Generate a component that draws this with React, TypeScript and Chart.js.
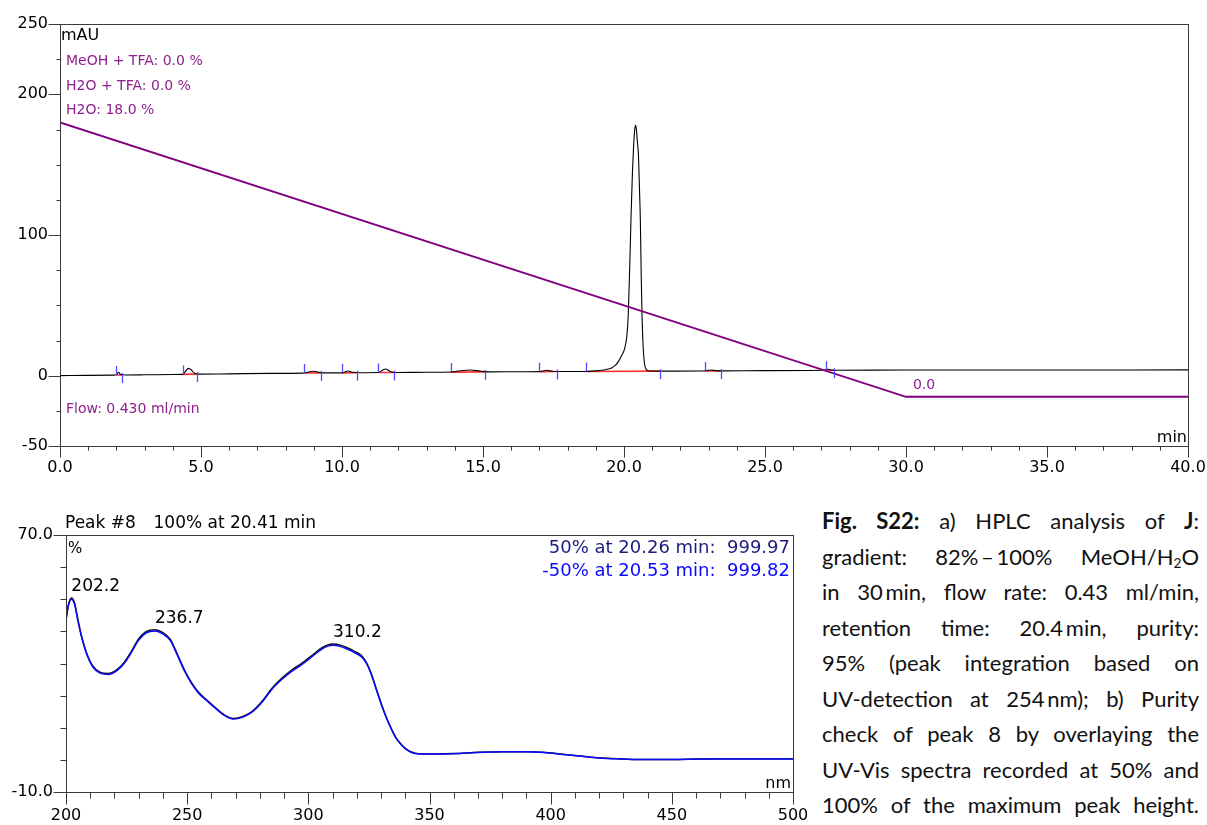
import React, { useEffect, useRef } from "react";
import { Chart, registerables } from "chart.js";

Chart.register(...registerables);

const AXIS_FONT = "'DejaVu Sans', 'Liberation Sans', sans-serif";
const PURPLE_TEXT = "#8f1f8f";
const PURPLE_LINE = "#800080";

// ---- HPLC chromatogram, UV 254 nm ----
const chromTime = [
  0, 1.0, 1.9, 2.0, 2.07, 2.15, 2.3, 3.0, 4.0, 4.35, 4.45, 4.55, 4.65, 4.75, 4.9,
  6.0, 7.5, 8.6, 8.8, 8.98, 9.15, 9.3, 10.0, 10.2, 10.4, 10.6, 11.3, 11.45, 11.55,
  11.7, 11.9, 13.0, 13.9, 14.2, 14.54, 14.9, 15.2, 16.5, 17.0, 17.26, 17.5, 18.0,
  18.6, 19.0, 19.2, 19.4, 19.56, 19.7, 19.8, 19.92, 20.02, 20.1, 20.15, 20.2, 20.25,
  20.3, 20.34, 20.38, 20.41, 20.44, 20.48, 20.51, 20.55, 20.58, 20.61, 20.64, 20.68,
  20.72, 20.76, 20.82, 20.95, 21.5, 22.8, 23.0, 23.1, 23.25, 23.5, 25.0, 27.1, 27.19,
  27.35, 27.5, 30.0, 35.0, 40.0,
];
const chromAbs = [
  0.0, 0.2, 0.4, 0.6, 2.4, 0.8, 0.5, 0.6, 0.8, 0.9, 3.0, 5.2, 4.2, 2.0, 1.1,
  1.3, 1.6, 1.8, 2.5, 3.1, 2.6, 2.0, 2.0, 3.3, 2.4, 2.1, 2.2, 4.0, 4.7,
  3.2, 2.3, 2.4, 2.6, 3.5, 4.0, 3.3, 2.7, 2.8, 2.9, 3.8, 3.0, 3.0,
  3.0, 3.4, 3.8, 4.6, 5.5, 7.5, 10, 14.5, 19, 28, 43, 75, 113,
  145, 163, 175, 178, 175, 165, 158, 132, 110, 72, 42, 20,
  9.5, 5.5, 3.8, 3.3, 3.25, 3.35, 3.8, 4.0, 3.6, 3.4, 3.6, 3.8, 4.7,
  4.0, 3.85, 4.0, 4.05, 4.1,
];

// Solvent program trace (H2O %, plotted on the mAU scale)
const gradientTime = [0, 30, 40];
const gradientLevel = [180, -15, -15];

// Integration limits of the detected peaks: time [min] and baseline level [mAU]
const peakStartTime = [1.99, 4.35, 8.66, 9.99, 11.29, 13.85, 16.99, 18.64, 22.87, 27.15];
const peakStartLevel = [0.45, 0.9, 1.85, 2.0, 2.2, 2.55, 2.85, 3.0, 3.35, 3.8];
const peakEndTime = [2.2, 4.85, 9.26, 10.54, 11.86, 15.07, 17.61, 21.28, 23.44, 27.46];
const peakEndLevel = [0.5, 1.1, 1.95, 2.1, 2.3, 2.7, 2.95, 3.2, 3.4, 3.85];

// Labelled ticks of the chromatogram
const chromXLabels = [0, 5, 10, 15, 20, 25, 30, 35, 40];
const chromYLabels = [-50, 0, 100, 200, 250];

// ---- UV spectra of peak #8 ----
const wavelength = [
  200, 201, 202.2, 203.5, 205, 206.5, 208.5, 211, 214, 217.5,
  221, 224, 227, 230, 233, 236.7, 240, 243, 246, 249,
  252, 255, 258, 261, 265, 269, 273, 277, 281, 285,
  289, 293, 297, 301, 305, 308, 310.2, 313, 316, 319,
  322, 324, 326, 328, 330, 332, 334, 336, 338, 340,
  342, 344, 347, 352, 360, 370, 380, 390, 397, 405,
  413, 420, 428, 437, 450, 460, 470, 480, 490, 500,
];
// spectrum recorded at 50 % (upslope) - black
const spectrumUp = [
  43.8, 48.3, 50.4, 48.9, 43.3, 38.3, 33.3, 29.3, 27.3, 26.9,
  28.1, 30.3, 33.8, 37.7, 39.9, 40.5, 39.6, 37.6, 32.8, 27.8,
  23.8, 20.8, 18.7, 16.7, 14.2, 12.9, 13.5, 15.2, 18.3, 22.3,
  25.4, 27.9, 29.9, 32.2, 34.6, 35.8, 36.1, 35.8, 34.9, 33.8,
  32.4, 30.3, 26.8, 22.2, 17.7, 13.6, 10.1, 7.1, 5.1, 3.6,
  2.6, 2.1, 1.85, 1.85, 1.95, 2.35, 2.55, 2.55, 2.35, 1.75,
  1.15, 0.65, 0.35, 0.15, 0.15, 0.25, 0.35, 0.35, 0.35, 0.35,
];
// spectrum recorded at -50 % (downslope) - blue
const spectrumDown = [
  43.5, 48, 50.0, 48.5, 43, 38, 33, 29, 27, 26.6,
  27.8, 30, 33.5, 37.3, 39.5, 40.1, 39.2, 37.2, 32.5, 27.5,
  23.5, 20.5, 18.5, 16.5, 14, 12.7, 13.3, 15, 18, 22,
  25, 27.5, 29.5, 31.8, 34.2, 35.4, 35.7, 35.4, 34.5, 33.4,
  32, 30, 26.5, 22, 17.5, 13.5, 10, 7, 5, 3.5,
  2.5, 2.0, 1.8, 1.8, 1.9, 2.3, 2.5, 2.5, 2.3, 1.7,
  1.1, 0.6, 0.3, 0.1, 0.1, 0.2, 0.3, 0.3, 0.3, 0.3,
];
const spectrumMaxima = [202.2, 236.7, 310.2];

const specXLabels = [200, 250, 300, 350, 400, 450, 500];
const specYLabels = [-10, 70];

const purityLines = [
  { text: "50% at 20.26 min:  999.97", color: "#1c1c7c" },
  { text: "-50% at 20.53 min:  999.82", color: "#0a0aff" },
];

// draws short / long tick marks outside the plot frame
function drawAxisTicks(
  ctx: CanvasRenderingContext2D,
  scale: any,
  values: number[],
  isMajor: (v: number) => boolean,
  minorLen: number,
  majorLen: number,
  horizontal: boolean
) {
  ctx.beginPath();
  for (const v of values) {
    const p = Math.round(scale.getPixelForValue(v)) + 0.5;
    const len = isMajor(v) ? majorLen : minorLen;
    if (horizontal) {
      const y0 = Math.round(scale.top) + 0.5;
      ctx.moveTo(p, y0);
      ctx.lineTo(p, y0 + len);
    } else {
      const x0 = Math.round(scale.right) + 0.5;
      ctx.moveTo(x0, p);
      ctx.lineTo(x0 - len, p);
    }
  }
  ctx.stroke();
}

function range(from: number, to: number, step: number) {
  const out: number[] = [];
  for (let v = from; v <= to + 1e-9; v += step) out.push(Math.round(v * 1000) / 1000);
  return out;
}

const chromDecor = {
  id: "chromDecor",
  afterDraw(chart: any) {
    const { ctx, chartArea: a, scales } = chart;
    const x = scales.x;
    const y = scales.y;
    ctx.save();

    // integration markers
    ctx.strokeStyle = "#4d4dff";
    ctx.lineWidth = 1.3;
    ctx.beginPath();
    peakStartTime.forEach((t, i) => {
      const px = Math.round(x.getPixelForValue(t)) + 0.5;
      const py = y.getPixelForValue(peakStartLevel[i]);
      ctx.moveTo(px, py);
      ctx.lineTo(px, py - 9);
    });
    peakEndTime.forEach((t, i) => {
      const px = Math.round(x.getPixelForValue(t)) + 0.5;
      const py = y.getPixelForValue(peakEndLevel[i]);
      ctx.moveTo(px, py - 2);
      ctx.lineTo(px, py + 8);
    });
    ctx.stroke();

    // frame
    ctx.strokeStyle = "#3a3a3a";
    ctx.lineWidth = 1;
    ctx.strokeRect(
      Math.round(a.left) + 0.5,
      Math.round(a.top) + 0.5,
      Math.round(a.right - a.left),
      Math.round(a.bottom - a.top)
    );
    drawAxisTicks(ctx, x, range(0, 40, 1), (v) => v % 5 === 0, 4, 11, true);
    drawAxisTicks(ctx, y, range(-50, 250, 25), (v) => chromYLabels.includes(v), 4, 12, false);

    // annotations
    ctx.fillStyle = "#000";
    ctx.font = `16px ${AXIS_FONT}`;
    ctx.textBaseline = "alphabetic";
    ctx.textAlign = "left";
    ctx.fillText("mAU", a.left + 1, 40);
    ctx.textAlign = "right";
    ctx.fillText("min", a.right - 1, a.bottom - 4.5);

    ctx.fillStyle = PURPLE_TEXT;
    ctx.font = `14px ${AXIS_FONT}`;
    ctx.textAlign = "left";
    ctx.fillText("MeOH + TFA: 0.0 %", a.left + 6, 65);
    ctx.fillText("H2O + TFA: 0.0 %", a.left + 6, 89.5);
    ctx.fillText("H2O: 18.0 %", a.left + 6, 113.5);
    ctx.fillText("Flow: 0.430 ml/min", a.left + 6, 412.5);
    ctx.fillText(
      "0.0",
      x.getPixelForValue(gradientTime[1]) + 7,
      y.getPixelForValue(gradientLevel[1]) - 8
    );
    ctx.restore();
  },
};

const specDecor = {
  id: "specDecor",
  afterDraw(chart: any) {
    const { ctx, chartArea: a, scales } = chart;
    const x = scales.x;
    const y = scales.y;
    ctx.save();
    ctx.strokeStyle = "#3a3a3a";
    ctx.lineWidth = 1;
    ctx.strokeRect(
      Math.round(a.left) + 0.5,
      Math.round(a.top) + 0.5,
      Math.round(a.right - a.left),
      Math.round(a.bottom - a.top)
    );
    drawAxisTicks(ctx, x, range(200, 500, 10), (v) => v % 50 === 0, 6, 12, true);
    drawAxisTicks(ctx, y, range(-10, 70, 10), (v) => specYLabels.includes(v), 6, 13, false);

    ctx.fillStyle = "#000";
    ctx.textBaseline = "alphabetic";
    ctx.textAlign = "left";
    ctx.font = `17px ${AXIS_FONT}`;
    ctx.fillText("Peak #8", a.left - 1, a.top - 7);
    ctx.fillText("100% at 20.41 min", a.left + 87.5, a.top - 7);
    ctx.font = `15px ${AXIS_FONT}`;
    ctx.fillText("%", a.left + 2, a.top + 17.5);
    ctx.font = `16px ${AXIS_FONT}`;
    ctx.textAlign = "right";
    ctx.fillText("nm", a.right - 2, a.bottom - 4);

    ctx.font = `18px ${AXIS_FONT}`;
    purityLines.forEach((line, i) => {
      ctx.fillStyle = line.color;
      ctx.fillText(line.text, a.right - 3, a.top + 17.5 + i * 23.3);
    });

    // wavelength of each absorption maximum
    ctx.fillStyle = "#000";
    ctx.textAlign = "left";
    ctx.font = `17px ${AXIS_FONT}`;
    spectrumMaxima.forEach((wl) => {
      const idx = wavelength.indexOf(wl);
      const px = x.getPixelForValue(wl);
      const py = y.getPixelForValue(spectrumUp[idx]);
      ctx.fillText(wl.toFixed(1), px, py - 7);
    });
    ctx.restore();
  },
};

const hiddenGrid = { display: false, drawTicks: false };

export default function App() {
  const chromRef = useRef<HTMLCanvasElement>(null);
  const specRef = useRef<HTMLCanvasElement>(null);

  useEffect(() => {
    if (!chromRef.current || !specRef.current) return;

    const chrom = new Chart(chromRef.current, {
      type: "line",
      data: {
        datasets: [
          {
            label: "H2O %",
            data: gradientTime.map((t, i) => ({ x: t, y: gradientLevel[i] })),
            borderColor: PURPLE_LINE,
            borderWidth: 1.8,
            pointRadius: 0,
            tension: 0,
          },
          {
            label: "UV 254 nm",
            data: chromTime.map((t, i) => ({ x: t, y: chromAbs[i] })),
            borderColor: "#000",
            borderWidth: 1.1,
            pointRadius: 0,
            cubicInterpolationMode: "monotone",
          },
          {
            label: "Integration baseline",
            data: peakStartTime.flatMap((t, i) => [
              { x: t, y: peakStartLevel[i] },
              { x: peakEndTime[i], y: peakEndLevel[i] },
              { x: peakEndTime[i], y: null },
            ]),
            borderColor: "#ff3030",
            borderWidth: 1.6,
            pointRadius: 0,
            spanGaps: false,
          },
        ],
      } as any,
      options: {
        responsive: false,
        animation: false,
        devicePixelRatio: 1,
        events: [],
        layout: { padding: { top: 24, right: 19, left: 0, bottom: 0 } },
        plugins: { legend: { display: false }, tooltip: { enabled: false } },
        scales: {
          x: {
            type: "linear",
            min: 0,
            max: 40,
            grid: hiddenGrid,
            border: { display: false },
            afterBuildTicks: (s: any) => {
              s.ticks = chromXLabels.map((v) => ({ value: v }));
            },
            afterFit: (s: any) => {
              s.height = 34;
              s.paddingLeft = 0;
              s.paddingRight = 0;
            },
            ticks: {
              autoSkip: false,
              maxRotation: 0,
              padding: 12,
              color: "#000",
              font: { family: AXIS_FONT, size: 16 },
              callback: (v: any) => Number(v).toFixed(1),
            },
          },
          y: {
            type: "linear",
            min: -50,
            max: 250,
            grid: hiddenGrid,
            border: { display: false },
            afterBuildTicks: (s: any) => {
              s.ticks = chromYLabels.map((v) => ({ value: v }));
            },
            afterFit: (s: any) => {
              s.width = 60;
              s.paddingTop = 0;
              s.paddingBottom = 0;
            },
            ticks: {
              autoSkip: false,
              padding: 12,
              color: "#000",
              font: { family: AXIS_FONT, size: 16 },
              callback: (v: any) => String(v),
            },
          },
        },
      } as any,
      plugins: [chromDecor],
    });

    const spec = new Chart(specRef.current, {
      type: "line",
      data: {
        datasets: [
          {
            label: "-50% at 20.53 min",
            data: wavelength.map((w, i) => ({ x: w, y: spectrumDown[i] })),
            borderColor: "#0a0aff",
            borderWidth: 1.5,
            pointRadius: 0,
            cubicInterpolationMode: "monotone",
          },
          {
            label: "50% at 20.26 min",
            data: wavelength.map((w, i) => ({ x: w, y: spectrumUp[i] })),
            borderColor: "#111",
            borderWidth: 1.5,
            pointRadius: 0,
            cubicInterpolationMode: "monotone",
          },
        ],
      } as any,
      options: {
        responsive: false,
        animation: false,
        devicePixelRatio: 1,
        events: [],
        layout: { padding: { top: 35, right: 17, left: 0, bottom: 0 } },
        plugins: { legend: { display: false }, tooltip: { enabled: false } },
        scales: {
          x: {
            type: "linear",
            min: 200,
            max: 500,
            grid: hiddenGrid,
            border: { display: false },
            afterBuildTicks: (s: any) => {
              s.ticks = specXLabels.map((v) => ({ value: v }));
            },
            afterFit: (s: any) => {
              s.height = 33;
              s.paddingLeft = 0;
              s.paddingRight = 0;
            },
            ticks: {
              autoSkip: false,
              maxRotation: 0,
              padding: 14,
              color: "#000",
              font: { family: AXIS_FONT, size: 16 },
              callback: (v: any) => String(v),
            },
          },
          y: {
            type: "linear",
            min: -10,
            max: 70,
            grid: hiddenGrid,
            border: { display: false },
            afterBuildTicks: (s: any) => {
              s.ticks = specYLabels.map((v) => ({ value: v }));
            },
            afterFit: (s: any) => {
              s.width = 66;
              s.paddingTop = 0;
              s.paddingBottom = 0;
            },
            ticks: {
              autoSkip: false,
              padding: 13,
              color: "#000",
              font: { family: AXIS_FONT, size: 16 },
              callback: (v: any) => Number(v).toFixed(1),
            },
          },
        },
      } as any,
      plugins: [specDecor],
    });

    return () => {
      chrom.destroy();
      spec.destroy();
    };
  }, []);

  // thin spaces keep number–unit pairs tight when lines are justified
  const thin = "\u2009";
  const sub = { fontSize: "0.62em", verticalAlign: "-0.22em", lineHeight: 0 } as React.CSSProperties;
  const captionLines: React.ReactNode[] = [
    <>
      <b>Fig. S22:</b> a) HPLC analysis of <b>J</b>:
    </>,
    <>
      gradient: {`82%${thin}–${thin}100%`} MeOH/H<sub style={sub}>2</sub>O
    </>,
    <>{`in 30${thin}min, flow rate: 0.43 ml/min,`}</>,
    <>{`retention time: 20.4${thin}min, purity:`}</>,
    <>95% (peak integration based on</>,
    <>{`UV-detection at 254${thin}nm); b) Purity`}</>,
    <>check of peak 8 by overlaying the</>,
    <>UV-Vis spectra recorded at 50% and</>,
    <>100% of the maximum peak height.</>,
  ];

  return (
    <div
      style={{
        position: "fixed",
        left: 0,
        top: 0,
        width: 1207,
        height: 825,
        background: "#fff",
        overflow: "hidden",
      }}
    >
      <canvas
        ref={chromRef}
        width={1207}
        height={480}
        style={{ position: "absolute", left: 0, top: 0, width: 1207, height: 480 }}
      />
      <canvas
        ref={specRef}
        width={810}
        height={325}
        style={{ position: "absolute", left: 0, top: 500, width: 810, height: 325 }}
      />
      <div
        style={{
          position: "absolute",
          left: 822,
          top: 503,
          width: 377,
          fontFamily: "Lato, 'Open Sans', sans-serif",
          fontSize: 22,
          color: "#111",
        }}
      >
        {captionLines.map((line, i) => (
          <div
            key={i}
            style={{
              height: 35.5,
              lineHeight: "35.5px",
              textAlign: "justify",
              textAlignLast: "justify",
            }}
          >
            {line}
          </div>
        ))}
      </div>
    </div>
  );
}
